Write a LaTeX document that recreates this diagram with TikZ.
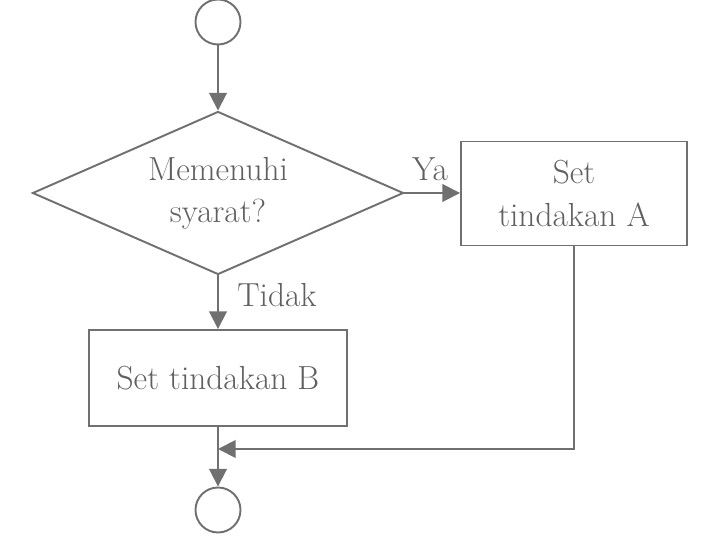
\documentclass[tikz,border=0pt]{standalone}
\usetikzlibrary{shapes.geometric,arrows.meta}
\definecolor{linegray}{RGB}{112,112,112}
\definecolor{textgray}{RGB}{96,96,96}
\tikzset{
  flow/.style={draw=linegray, line width=1.1pt},
  arrowline/.style={flow, -{Triangle[length=10pt,width=10pt]}},
  terminal/.style={flow, circle, minimum size=0.9cm, inner sep=0pt},
  choice/.style={flow, diamond, aspect=2.27, minimum width=7.42cm, minimum height=3.26cm, inner sep=0pt, align=center, text=textgray},
  actionbox/.style={flow, rectangle, inner sep=0pt, align=center, text=textgray},
  lbl/.style={text=textgray, inner sep=0pt}
}
\begin{document}
\begin{tikzpicture}[font=\fontsize{19}{24}\selectfont]
\useasboundingbox ( 0, 0 ) rectangle ( 14.54, 11.14 );

% Start and end
\node at ( 4.36, 10.70 ) [terminal] (start) {};
\node at ( 4.36, 0.94 ) [terminal] (stop) {};

% Decision
\node at ( 4.36, 7.28 ) [choice] (cond) {Memenuhi\\syarat?};

% Actions
\node at ( 11.48, 7.27 ) [actionbox, minimum width=4.52cm, minimum height=2.08cm] (actA) {Set\\tindakan A};
\node at ( 4.36, 3.58 ) [actionbox, minimum width=5.16cm, minimum height=1.92cm] (actB) {Set tindakan B};

% Connectors
\coordinate (merge) at ( 4.36, 2.16 );
\draw [arrowline] (start) -- (cond.north);
\draw [arrowline] (cond.east) -- (cond.east -| actA.west);
\draw [arrowline] (cond.south) -- (actB.north);
\draw [flow] (actB.south) -- (merge);
\draw [arrowline] (merge) -- (stop);
\draw [arrowline] (actA.south) |- (merge);

% Labels
\node at ( 8.60, 7.76 ) [lbl] (yes) {Ya};
\node at ( 4.74, 5.24 ) [lbl, anchor=west] (no) {Tidak};

\end{tikzpicture}
\end{document}
